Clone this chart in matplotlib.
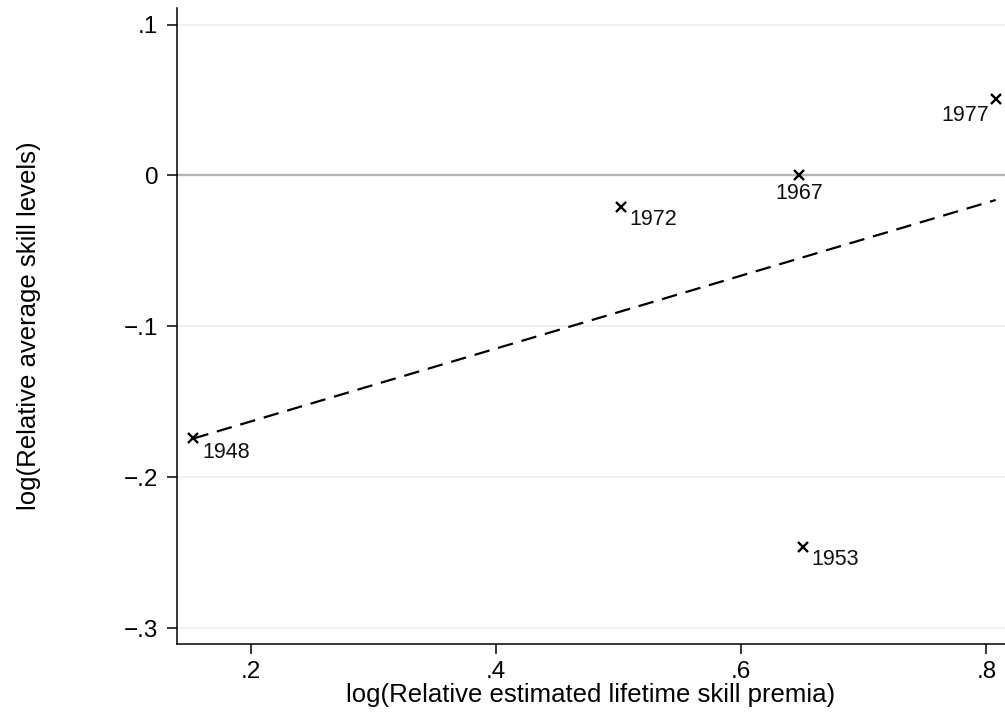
import numpy as np
import matplotlib
matplotlib.use("Agg")
import matplotlib.pyplot as plt

plt.rcParams["font.family"] = ["Liberation Sans", "DejaVu Sans"]

# cohort points
years = ["1948", "1953", "1967", "1972", "1977"]
premia = [0.153, 0.650, 0.647, 0.5015, 0.8076]
skill = [-0.1743, -0.246, 0.0, -0.0206, 0.0506]
# label offsets (points) and alignment, mimicking Stata clock positions
lab_pos = {"1948": (6.5, -10, "left"), "1953": (6.5, -9.5, "left"),
           "1967": (0, -13, "center"), "1972": (6.5, -9.5, "left"),
           "1977": (-5, -12, "right")}

yticks = [-0.3, -0.2, -0.1, 0.0, 0.1]
ytick_labels = ["\u2212.3", "\u2212.2", "\u2212.1", "0", ".1"]
xticks = [0.2, 0.4, 0.6, 0.8]
xtick_labels = [".2", ".4", ".6", ".8"]

fig = plt.figure(figsize=(10.05, 7.19), dpi=100)
ax = fig.add_axes([0.1761, 0.1043, 0.8239, 0.8846])

for t in yticks:
    if t != 0:
        ax.axhline(t, color="#eaf2f3", lw=1.4, zorder=0)
ax.axhline(0, color="#b4b4b4", lw=1.7, zorder=1)

# linear fit across the data range
b, a = np.polyfit(premia, skill, 1)
xf = np.array([min(premia), max(premia)])
ax.plot(xf, a + b * xf, color="black", lw=1.6, dashes=(7, 4), zorder=2)

ax.plot(premia, skill, ls="none", marker="x", ms=7.5, mew=1.7, color="black", zorder=3)
for yr, xv, yv in zip(years, premia, skill):
    dx, dy, ha = lab_pos[yr]
    ax.annotate(yr, (xv, yv), xytext=(dx, dy), textcoords="offset points",
                ha=ha, va="center", fontsize=15.5, color="#111111")

ax.set_xlim(0.1396, 0.8152)
ax.set_ylim(-0.3106, 0.111)
ax.set_xticks(xticks)
ax.set_xticklabels(xtick_labels)
ax.set_yticks(yticks)
ax.set_yticklabels(ytick_labels)
ax.tick_params(labelsize=17.5, length=7.5, width=1.1, pad=5, direction="out")
ax.tick_params(axis="y", pad=6)
ax.spines["top"].set_visible(False)
ax.spines["right"].set_visible(False)
ax.spines["left"].set_linewidth(1.1)
ax.spines["bottom"].set_linewidth(1.1)
ax.set_xlabel("log(Relative estimated lifetime skill premia)", fontsize=18.5, labelpad=0)
ax.set_ylabel("log(Relative average skill levels)", fontsize=18.5, labelpad=60)

fig.savefig("out.png", dpi=100)
